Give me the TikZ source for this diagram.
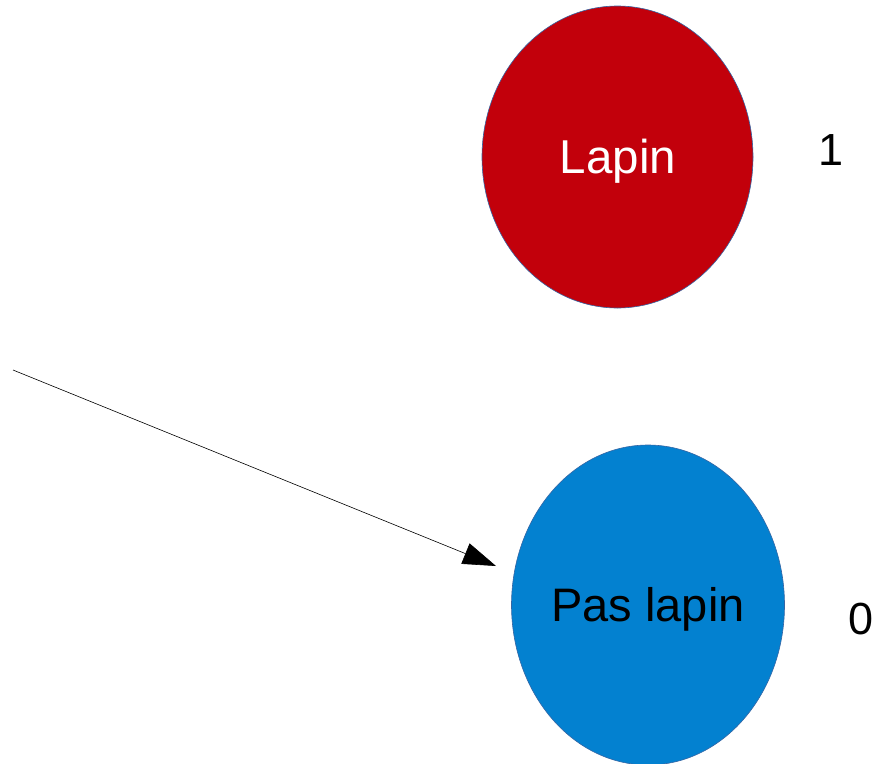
\documentclass[tikz,border=0pt]{standalone}
\usepackage{fontspec}
\setmainfont{Liberation Sans}
\usetikzlibrary{shapes.geometric,arrows.meta}
\definecolor{lapinred}{HTML}{C2000B}
\definecolor{pasblue}{HTML}{0381D0}
\definecolor{rimblue}{HTML}{3465A4}
\begin{document}
\begin{tikzpicture}[x=1pt,y=-1pt,
  state/.style={ellipse,draw=rimblue,line width=0.6pt,inner sep=0pt},
  valuelabel/.style={font=\fontsize{45}{48}\selectfont,text=black},
  link/.style={-{Triangle[length=33pt,width=22pt]},line width=0.6pt,draw=black}]
  \useasboundingbox (0,0) rectangle (893,763);
  \node[state,fill=lapinred,minimum width=271pt,minimum height=302pt] (lapin) at (617.5,157) {};
  \node[text=white,font=\fontsize{47.5}{50}\selectfont] (lapintext) at (618,161) {Lapin};
  \node[state,fill=pasblue,minimum width=273pt,minimum height=320pt] (pas) at (648,605) {};
  \node[text=black,font=\fontsize{47}{50}\selectfont] (pastext) at (648,609) {Pas lapin};
  \node[valuelabel] (one) at (831,150) {1};
  \node[valuelabel] (zero) at (861,619) {0};
  \coordinate (src) at (13,370);
  \coordinate (tip) at (496,566);
  \draw[link] (src) -- (tip);
\end{tikzpicture}
\end{document}
